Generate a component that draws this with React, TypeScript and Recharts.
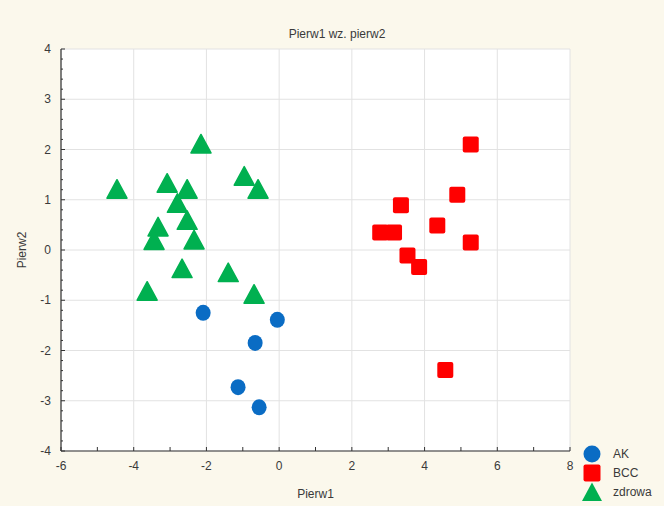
import React from 'react';
import { ScatterChart, Scatter, XAxis, YAxis, CartesianGrid } from 'recharts';

// ---- data ----
const akX = [-2.09, -0.05, -0.66, -1.13, -0.55];
const akY = [-1.25, -1.39, -1.85, -2.73, -3.13];

const bccX = [5.27, 4.9, 3.35, 4.35, 5.27, 2.78, 3.16, 3.53, 3.85, 4.57];
const bccY = [2.1, 1.1, 0.89, 0.49, 0.15, 0.35, 0.35, -0.11, -0.34, -2.39];

const zdrX = [-4.46, -2.15, -3.08, -2.53, -2.8, -3.33, -3.44, -2.53, -2.34, -0.96, -0.58, -2.67, -1.4, -3.63, -0.69];
const zdrY = [1.2, 2.1, 1.32, 1.2, 0.92, 0.45, 0.18, 0.58, 0.19, 1.46, 1.2, -0.38, -0.46, -0.83, -0.89];

const seriesNames = ['AK', 'BCC', 'zdrowa'];
const xTicks = [-6, -5, -4, -3, -2, -1, 0, 1, 2, 3, 4, 5, 6, 7, 8];
const xGridTicks = [-6, -4, -2, 0, 2, 4, 6, 8];
const yMajorTicks = [-4, -3, -2, -1, 0, 1, 2, 3, 4];
const yMinorTicks = Array.from({ length: 41 }, (_, i) => Math.round((-4 + i * 0.2) * 10) / 10);

const title = 'Pierw1 wz. pierw2';
const xLabel = 'Pierw1';
const yLabel = 'Pierw2';

const toPts = (xs: number[], ys: number[]) => xs.map((x, i) => ({ x, y: ys[i] }));
const akData = toPts(akX, akY);
const bccData = toPts(bccX, bccY);
const zdrData = toPts(zdrX, zdrY);

const FONT = '"Liberation Sans", Arial, sans-serif';
const TXT = '#3a3a3a';
const AXIS = '#333';
const BLUE = '#0a6cc4';
const RED = '#ff0000';
const GREEN = '#00b050';

const BottomTick = (p: any) => {
  const v = p.payload.value;
  const show = Math.round(v) % 2 === 0;
  return (
    <g>
      <line x1={p.x} x2={p.x} y1={p.y} y2={p.y - 4} stroke={AXIS} strokeWidth={1} />
      {show && (
        <text x={p.x} y={p.y + 19} textAnchor="middle" fontFamily={FONT} fontSize={12} fill={TXT}>
          {v}
        </text>
      )}
    </g>
  );
};

const TopTick = (p: any) => (
  <line x1={p.x} x2={p.x} y1={p.y} y2={p.y + 4} stroke={AXIS} strokeWidth={1} />
);

const LeftTick = (p: any) => {
  const v = p.payload.value;
  const major = Math.abs(v - Math.round(v)) < 1e-6;
  return (
    <g>
      <line x1={p.x} x2={p.x + (major ? 4 : 2)} y1={p.y} y2={p.y} stroke={AXIS} strokeWidth={1} />
      {major && (
        <text x={p.x - 10} y={p.y + 4} textAnchor="end" fontFamily={FONT} fontSize={12} fill={TXT}>
          {Math.round(v)}
        </text>
      )}
    </g>
  );
};

const RightTick = (p: any) => {
  const v = p.payload.value;
  const major = Math.abs(v - Math.round(v)) < 1e-6;
  return <line x1={p.x} x2={p.x - (major ? 4 : 2)} y1={p.y} y2={p.y} stroke={AXIS} strokeWidth={1} />;
};

const CircleShape = (p: any) => <ellipse cx={p.cx} cy={p.cy} rx={7.5} ry={8} fill={BLUE} />;
const SquareShape = (p: any) => (
  <rect x={p.cx - 8} y={p.cy - 8} width={16} height={16} rx={2} fill={RED} />
);
const TriShape = (p: any) => (
  <path
    d={`M${p.cx},${p.cy - 10} L${p.cx + 10},${p.cy + 8.5} L${p.cx - 10},${p.cy + 8.5} Z`}
    fill={GREEN}
    stroke={GREEN}
    strokeWidth={1.5}
    strokeLinejoin="round"
  />
);

const YLabel = (p: any) => {
  const vb = p.viewBox;
  const cx = 22;
  const cy = vb.y + vb.height / 2;
  return (
    <text x={cx} y={cy} transform={`rotate(-90 ${cx} ${cy})`} textAnchor="middle" dominantBaseline="central" fontFamily={FONT} fontSize={12} fill={TXT}>
      {yLabel}
    </text>
  );
};

const XLabel = (p: any) => {
  const vb = p.viewBox;
  return (
    <text x={vb.x + vb.width / 2} y={vb.y + 47} textAnchor="middle" fontFamily={FONT} fontSize={12} fill={TXT}>
      {xLabel}
    </text>
  );
};

const legendItems = [
  { name: seriesNames[0], shape: 'circle', color: BLUE },
  { name: seriesNames[1], shape: 'square', color: RED },
  { name: seriesNames[2], shape: 'triangle', color: GREEN },
];

export default function App() {
  return (
    <div style={{ position: 'absolute', left: 0, top: 0, width: 664, height: 506, background: '#fbf8ec', fontFamily: FONT }}>
      <div style={{ position: 'absolute', left: 0, width: 664, top: 27, textAlign: 'center', fontSize: 12, color: TXT, paddingLeft: 10, boxSizing: 'border-box' }}>
        {title}
      </div>
      <div style={{ position: 'absolute', left: 0, top: 0 }}>
        <ScatterChart width={664} height={506} margin={{ top: 49, right: 94, bottom: 0, left: 0 }}>
          <CartesianGrid xAxisId="grid" yAxisId="grid" stroke="#e2e2e2" fill="#ffffff" strokeWidth={1} />
          <XAxis xAxisId="grid" type="number" dataKey="x" domain={[-6, 8]} ticks={xGridTicks} hide allowDataOverflow />
          <YAxis yAxisId="grid" type="number" dataKey="y" domain={[-4, 4]} ticks={yMajorTicks} hide allowDataOverflow />
          <XAxis
            type="number"
            dataKey="x"
            domain={[-6, 8]}
            ticks={xTicks}
            interval={0}
            allowDataOverflow
            height={55}
            tickSize={0}
            tickMargin={0}
            tickLine={false}
            tick={<BottomTick />}
            axisLine={{ stroke: AXIS, strokeWidth: 1.2 }}
            label={<XLabel />}
          />
          <XAxis
            xAxisId="top"
            orientation="top"
            type="number"
            dataKey="x"
            domain={[-6, 8]}
            ticks={xTicks}
            interval={0}
            allowDataOverflow
            height={0}
            tickSize={0}
            tickMargin={0}
            tickLine={false}
            tick={<TopTick />}
            axisLine={{ stroke: AXIS, strokeWidth: 1.2 }}
          />
          <YAxis
            type="number"
            dataKey="y"
            domain={[-4, 4]}
            ticks={yMinorTicks}
            interval={0}
            allowDataOverflow
            width={61}
            tickSize={0}
            tickMargin={0}
            tickLine={false}
            tick={<LeftTick />}
            axisLine={{ stroke: AXIS, strokeWidth: 1.2 }}
            label={<YLabel />}
          />
          <YAxis
            yAxisId="right"
            orientation="right"
            type="number"
            dataKey="y"
            domain={[-4, 4]}
            ticks={yMinorTicks}
            interval={0}
            allowDataOverflow
            width={0}
            tickSize={0}
            tickMargin={0}
            tickLine={false}
            tick={<RightTick />}
            axisLine={{ stroke: AXIS, strokeWidth: 1.2 }}
          />
          <Scatter name={seriesNames[2]} data={zdrData} shape={<TriShape />} isAnimationActive={false} />
          <Scatter name={seriesNames[0]} data={akData} shape={<CircleShape />} isAnimationActive={false} />
          <Scatter name={seriesNames[1]} data={bccData} shape={<SquareShape />} isAnimationActive={false} />
        </ScatterChart>
      </div>
      <div style={{ position: 'absolute', left: 580, top: 444 }}>
        {legendItems.map((it) => (
          <div key={it.name} style={{ display: 'flex', alignItems: 'center', height: 19 }}>
            <svg width={24} height={20} style={{ display: 'block' }}>
              {it.shape === 'circle' && <circle cx={12} cy={10} r={8.5} fill={it.color} />}
              {it.shape === 'square' && <rect x={3.5} y={1.5} width={17} height={17} rx={2} fill={it.color} />}
              {it.shape === 'triangle' && <path d="M12,0.5 L22,19 L2,19 Z" fill={it.color} />}
            </svg>
            <span style={{ fontSize: 12, color: TXT, marginLeft: 9 }}>{it.name}</span>
          </div>
        ))}
      </div>
    </div>
  );
}
